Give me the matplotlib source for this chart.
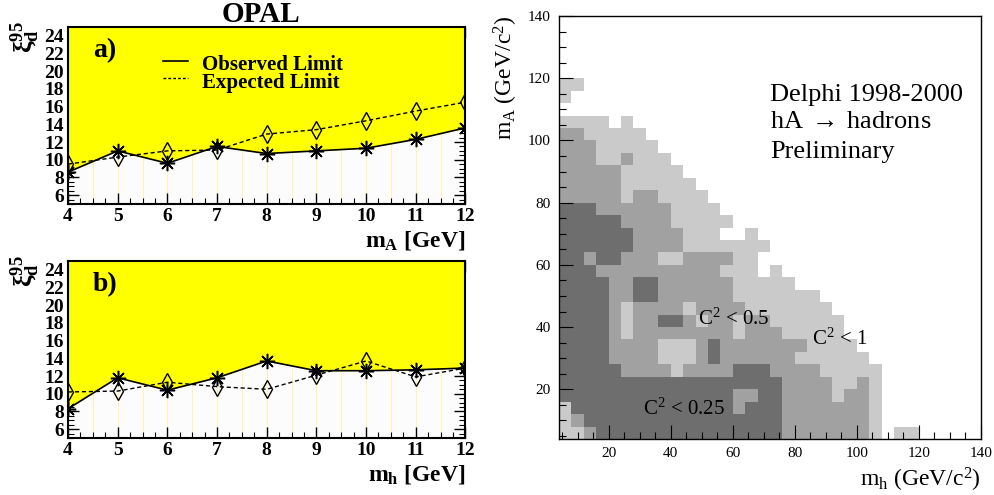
import numpy as np
import matplotlib
matplotlib.use("Agg")
import matplotlib.pyplot as plt
from matplotlib.colors import ListedColormap, BoundaryNorm
from matplotlib.ticker import MultipleLocator

plt.rcParams['font.family'] = ['Liberation Serif', 'DejaVu Serif']
plt.rcParams['mathtext.fontset'] = 'custom'
plt.rcParams['mathtext.rm'] = 'Liberation Serif'
plt.rcParams['mathtext.it'] = 'Liberation Serif:italic'
plt.rcParams['mathtext.bf'] = 'Liberation Serif:bold'

# ---------------- OPAL data ----------------
mass = [4, 5, 6, 7, 8, 9, 10, 11, 12]
obs_a = [8.6, 11.0, 9.6, 11.5, 10.7, 11.0, 11.3, 12.3, 13.6]
exp_a = [9.5, 10.3, 11.0, 11.1, 12.9, 13.4, 14.4, 15.5, 16.5]
obs_b = [8.3, 11.8, 10.4, 11.8, 13.7, 12.6, 12.6, 12.7, 12.9]
exp_b = [10.2, 10.3, 11.3, 10.8, 10.5, 12.1, 13.7, 11.9, 12.9]
ytick_vals = [6, 8, 10, 12, 14, 16, 18, 20, 22, 24]
xtick_vals = [4, 5, 6, 7, 8, 9, 10, 11, 12]
legend_labels = ['Observed Limit', 'Expected Limit']

# ---------------- DELPHI data ----------------
# excluded-region level per 4 GeV cell (0 none, 1 C2<1, 2 C2<0.5, 3 C2<0.25)
# rows from mA = 120-124 (top) down to mA = 4-8 (bottom); columns mh = 4-8 ... 120-124
cell_size = 4
cell_origin = 4
delphi_rows = [
    "",
    "11",
    "1",
    "",
    "111101",
    "2211111",
    "22211111",
    "222112111",
    "2222211111",
    "22222111111",
    "222221221111",
    "3332222221111",
    "33333222211111",
    "3333332222111001",
    "33333322221111111",
    "3323322211222211",
    "333222222222211101",
    "3333223322222211111",
    "333322332222221111111",
    "3333212222122221111111",
    "333321223321221221111110",
    "33332122222222122211111",
    "333322221112322222221111",
    "3333222211123222222111111",
    "33333222212222333222211111",
    "33333333333333333322221121",
    "33333333333333223322221221",
    "13333333333333233322222221",
    "12333333333333333322222221",
    "11233333333333333322222221011",
]
delphi_colors = ['white', '#cacaca', '#a1a1a1', '#6e6e6e']

yellow = '#ffff00'

fig = plt.figure(figsize=(9.94, 4.95), dpi=100)
axa = fig.add_axes([0.0684, 0.5879, 0.3998, 0.3576])
axb = fig.add_axes([0.0684, 0.1152, 0.3998, 0.3576])
axr = fig.add_axes([0.5624, 0.1131, 0.4245, 0.8545])


def opal_panel(ax, obs, exp, tag, xlab):
    ax.set_facecolor('#fcfcfc')
    for xv in np.arange(4.5, 12.0, 0.5):
        ax.axvline(xv, color='#fff39a', lw=0.6, zorder=1)
    ax.fill_between(mass, obs, 25, color=yellow, lw=0, zorder=2)
    ax.plot(mass, exp, color='k', lw=1.0, dashes=(3, 2), marker='d', ms=9,
            mfc='none', mec='k', mew=1.0, zorder=3)
    ax.plot(mass, obs, color='k', lw=1.2, marker=(8, 2, 0), ms=11,
            mec='k', mew=1.1, zorder=4)
    ax.set_xlim(4, 12)
    ax.set_ylim(5, 25)
    ax.set_yticks(ytick_vals)
    ax.set_xticks(xtick_vals)
    ax.yaxis.set_minor_locator(MultipleLocator(0.5))
    ax.xaxis.set_minor_locator(MultipleLocator(0.25))
    ax.tick_params(which='both', direction='in', top=True, right=True)
    ax.tick_params(which='major', length=8, width=1.0, labelsize=14, pad=3)
    ax.tick_params(which='minor', length=4, width=0.8)
    for lab in ax.get_xticklabels() + ax.get_yticklabels():
        lab.set_fontweight('bold')
    for s in ax.spines.values():
        s.set_linewidth(1.5)
    ax.text(0.063, 0.865, tag, transform=ax.transAxes, fontsize=20,
            fontweight='bold', ha='left', va='center', zorder=6)
    ax.text(-0.107, 1.035, r'$\mathbf{\xi^{95}_{d}}$', transform=ax.transAxes,
            rotation=90, fontsize=19, ha='center', va='top')
    ax.text(1.0, -0.14, xlab, transform=ax.transAxes, fontsize=17,
            fontweight='bold', ha='right', va='top')


opal_panel(axa, obs_a, exp_a, 'a)', r'$\mathbf{m_{A}}$ [GeV]')
opal_panel(axb, obs_b, exp_b, 'b)', r'$\mathbf{m_{h}}$ [GeV]')

# legend (drawn in axes coordinates, as ROOT's TLegend)
axa.plot([0.238, 0.301], [0.808, 0.808], color='k', lw=1.2,
         transform=axa.transAxes, zorder=6)
axa.plot([0.238, 0.301], [0.712, 0.712], color='k', lw=1.0, dashes=(2, 1.5),
         transform=axa.transAxes, zorder=6)
axa.text(0.338, 0.757, legend_labels[0], transform=axa.transAxes, fontsize=15,
         fontweight='bold', ha='left', va='baseline', zorder=6)
axa.text(0.338, 0.6537, legend_labels[1], transform=axa.transAxes, fontsize=15,
         fontweight='bold', ha='left', va='baseline', zorder=6)

fig.text(261 / 994, 1 - 14 / 495, 'OPAL', fontsize=21, fontweight='bold',
         ha='center', va='center')

# ---------------- DELPHI panel ----------------
ncols = 30
grid = np.array([[int(c) for c in r.ljust(ncols, '0')] for r in delphi_rows[::-1]])
nrows = grid.shape[0]
xe = cell_origin + cell_size * np.arange(ncols + 1)
ye = cell_origin + cell_size * np.arange(nrows + 1)
cmap = ListedColormap(delphi_colors)
norm = BoundaryNorm([-0.5, 0.5, 1.5, 2.5, 3.5], cmap.N)
axr.pcolormesh(xe, ye, grid, cmap=cmap, norm=norm, shading='flat',
               edgecolors='none', antialiased=False)
axr.set_xlim(4, 140)
axr.set_ylim(4, 140)
axr.set_xticks([20, 40, 60, 80, 100, 120, 140])
axr.set_yticks([20, 40, 60, 80, 100, 120, 140])
axr.xaxis.set_minor_locator(MultipleLocator(5))
axr.yaxis.set_minor_locator(MultipleLocator(5))
axr.tick_params(which='both', direction='in')
axr.tick_params(which='major', length=10, width=0.8, labelsize=11, pad=6)
axr.tick_params(which='minor', length=5, width=0.8)
for s in axr.spines.values():
    s.set_linewidth(1.0)
axr.text(-0.126, 1.0, r'm$_{\mathrm{A}}$ (GeV/c$^{2}$)', transform=axr.transAxes,
         rotation=90, fontsize=17, ha='center', va='top')
axr.text(1.0, -0.064, r'm$_{\mathrm{h}}$ (GeV/c$^{2}$)', transform=axr.transAxes,
         fontsize=17, ha='right', va='top')
axr.text(72, 114.7, 'Delphi 1998-2000', fontsize=19, ha='left', va='center')
axr.text(72, 106, r'hA$\;\rightarrow\;$hadrons', fontsize=19, ha='left', va='center')
axr.text(72, 96.4, 'Preliminary', fontsize=19, ha='left', va='center')
axr.text(48.8, 42.5, r'C$^{2}$ < 0.5', fontsize=15, ha='left', va='center')
axr.text(85.6, 36, r'C$^{2}$ < 1', fontsize=15, ha='left', va='center')
axr.text(31, 13.6, r'C$^{2}$ < 0.25', fontsize=15, ha='left', va='center')

fig.savefig('out.png', dpi=100)
